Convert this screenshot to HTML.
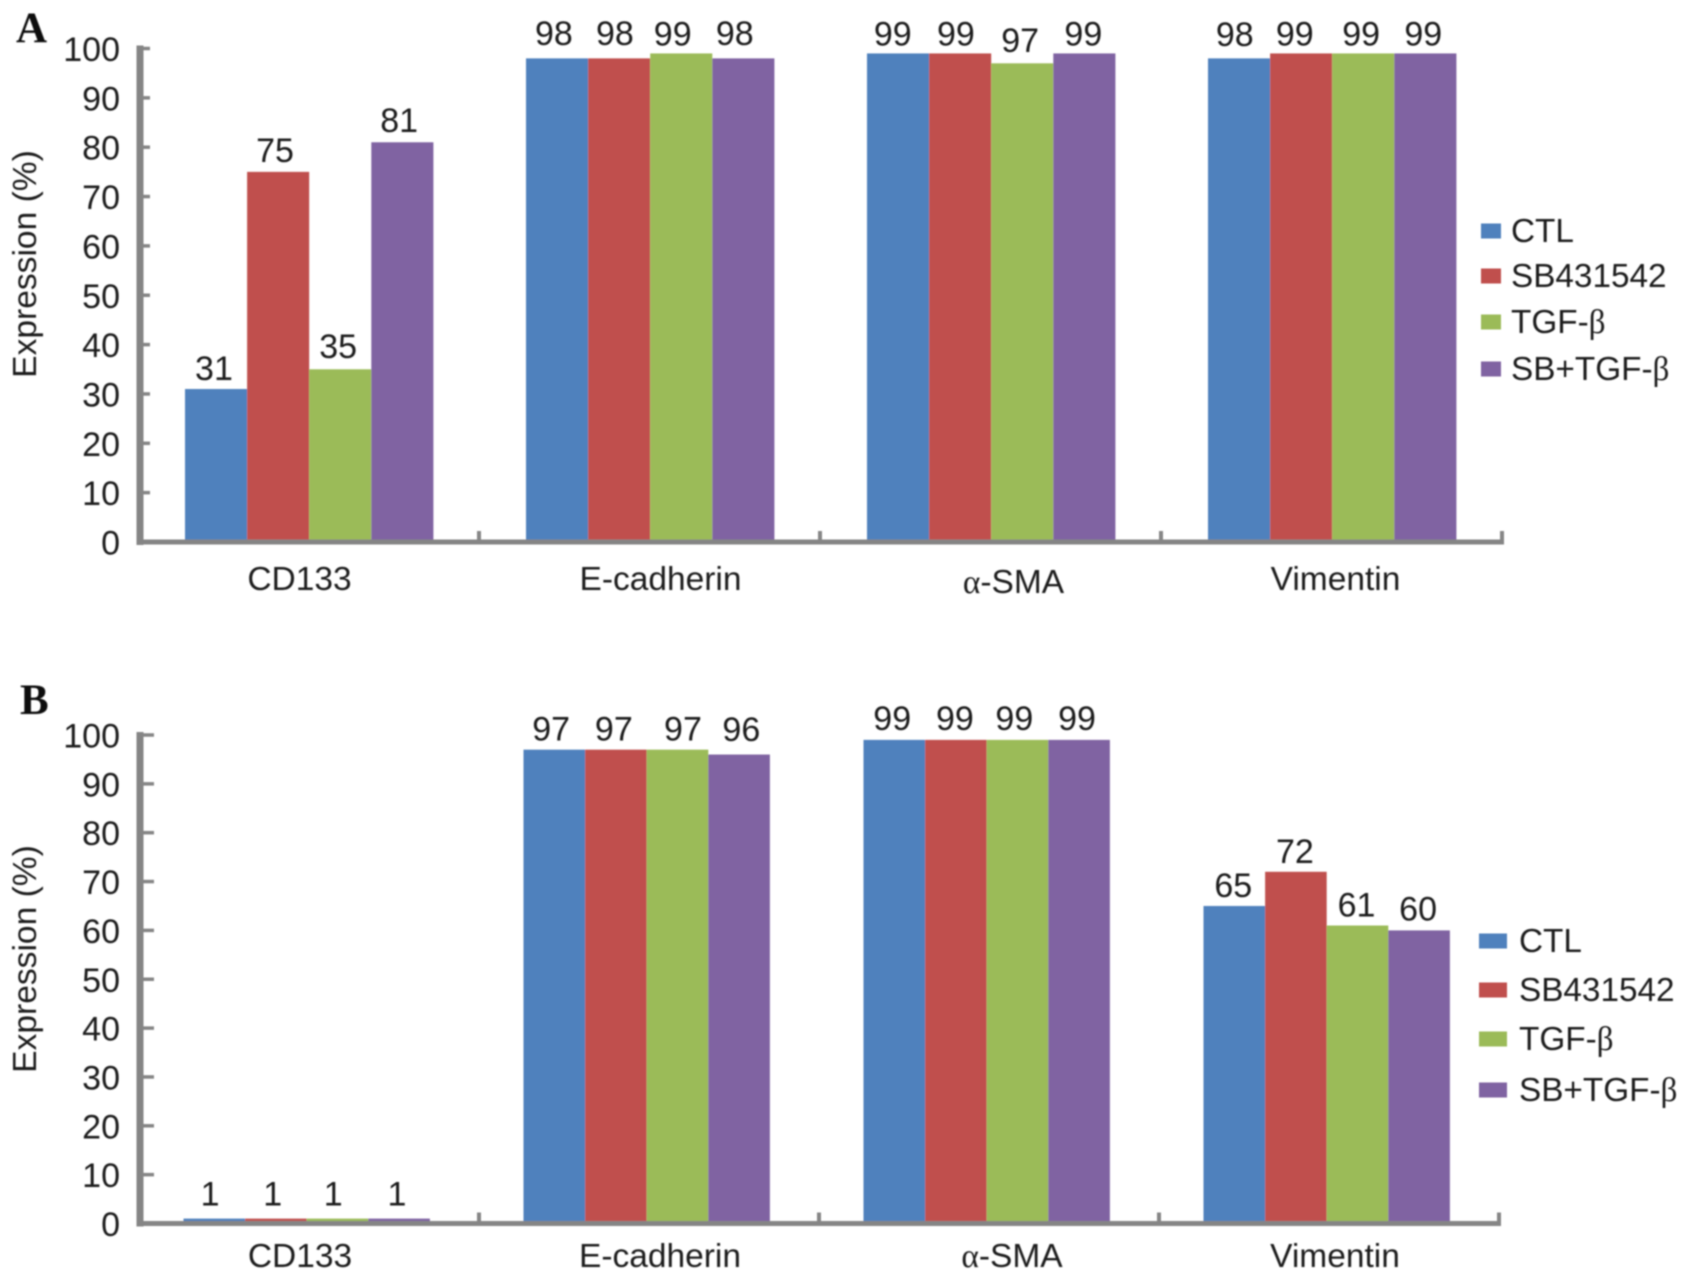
<!DOCTYPE html>
<html lang="en">
<head>
<meta charset="utf-8">
<title>Expression bar charts</title>
<style>
html,body{margin:0;padding:0;background:#fff;}
svg{display:block;}
text{font-family:"Liberation Sans",sans-serif;fill:#1f1f1f;}
.greek{font-family:"Liberation Serif",serif;}
.panel-letter{font-family:"Liberation Serif",serif;font-weight:bold;font-size:43px;fill:#111;}
</style>
</head>
<body>
<svg id="figure" width="1690" height="1279" viewBox="0 0 1690 1279" xmlns="http://www.w3.org/2000/svg">
  <defs>
    <filter id="soft" x="-5%" y="-5%" width="110%" height="110%"><feGaussianBlur stdDeviation="0.7"/></filter>
  </defs>
  <g id="root" filter="url(#soft)">
    <text class="panel-letter" x="16" y="42">A</text>
    <text class="panel-letter" x="20" y="714">B</text>
  </g>
</svg>
<script>
const categories = ['CD133', 'E-cadherin', 'α-SMA', 'Vimentin'];
const seriesNames = ['CTL', 'SB431542', 'TGF-β', 'SB+TGF-β'];
const seriesColors = ['#4F81BD', '#C0504D', '#9BBB59', '#8064A2'];
const yTickLabels = [0, 10, 20, 30, 40, 50, 60, 70, 80, 90, 100];

const panelACtl = [31, 98, 99, 98];
const panelASb = [75, 98, 99, 99];
const panelATgf = [35, 99, 97, 99];
const panelASbTgf = [81, 98, 99, 99];

const panelBCtl = [1, 97, 99, 65];
const panelBSb = [1, 97, 99, 72];
const panelBTgf = [1, 97, 99, 61];
const panelBSbTgf = [1, 96, 99, 60];

const SVG_NS = 'http://www.w3.org/2000/svg';
const root = document.getElementById('root');

function make(tag, attrs, parent) {
  const node = document.createElementNS(SVG_NS, tag);
  for (const key in attrs) node.setAttribute(key, attrs[key]);
  parent.appendChild(node);
  return node;
}

function fillText(node, str) {
  str.split(/([αβ])/).forEach(function (part) {
    if (!part) return;
    const span = make('tspan', {}, node);
    if (part === 'α' || part === 'β') span.setAttribute('class', 'greek');
    span.textContent = part;
  });
}

function drawPanel(cfg) {
  const group = make('g', {}, root);
  
  

  const yScale = function (v) { return cfg.y0 - (v / 100) * (cfg.y0 - cfg.y100); };
  const xBar = function (c, s) { return cfg.origin + c * cfg.step + cfg.pad + s * cfg.barW; };
  const axisColor = '#858585';

  // bars
  cfg.series.forEach(function (values, s) {
    values.forEach(function (v, c) {
      const x = xBar(c, s);
      const top = yScale(v);
      const bar = make('rect', { x: x, y: top, width: cfg.barW, height: cfg.y0 - top, fill: seriesColors[s] }, group);
      
      

      const lab = make('text', {
        x: x + cfg.barW / 2 - 1 + cfg.labelShiftX[c][s] * 1.078,
        y: top - 9 - cfg.labelLift[c][s] * 1.078,
        'text-anchor': 'middle',
        'font-size': 34
      }, group);
      
      
      lab.textContent = String(v);
    });
  });

  // y axis
  const yAxis = make('line', { x1: cfg.origin, x2: cfg.origin, y1: yScale(100) - 3, y2: cfg.y0 + 3, stroke: axisColor, 'stroke-width': 7 }, group);
  
  

  yTickLabels.forEach(function (t) {
    const y = yScale(t);
    const tick = make('line', { x1: cfg.origin, x2: cfg.origin + cfg.tickLen, y1: y, y2: y, stroke: axisColor, 'stroke-width': 3.5 }, group);
    
    

    const lab = make('text', { x: cfg.origin - 20, y: y + 12.5, 'text-anchor': 'end', 'font-size': 34 }, group);
    
    
    lab.textContent = String(t);
  });

  // x axis
  const xEnd = cfg.origin + categories.length * cfg.step + cfg.sepShift;
  const xAxis = make('line', { x1: cfg.origin - 3, x2: xEnd + 2, y1: cfg.y0, y2: cfg.y0, stroke: axisColor, 'stroke-width': 5 }, group);
  
  

  categories.forEach(function (name, c) {
    const sx = cfg.origin + (c + 1) * cfg.step + cfg.sepShift;
    const sep = make('line', { x1: sx, x2: sx, y1: cfg.y0 - 11, y2: cfg.y0, stroke: axisColor, 'stroke-width': 4 }, group);
    
    

    const lab = make('text', {
      x: cfg.origin + (c + 0.5) * cfg.step + cfg.catNudge[c],
      y: cfg.xLabelY + (name === 'α-SMA' ? cfg.greekDrop : 0),
      'text-anchor': 'middle',
      'font-size': 33.5
    }, group);
    
    
    fillText(lab, name);
  });

  // y title
  const title = make('text', {
    transform: 'translate(' + cfg.titleX + ',' + cfg.titleY + ') rotate(-90)',
    'text-anchor': 'middle',
    'font-size': 33.6
  }, group);
  
  
  title.textContent = 'Expression (%)';

  // legend
  seriesNames.forEach(function (name, s) {
    const entry = make('g', {}, group);
    
    

    const y = cfg.legendY[s];
    const swatch = make('rect', { x: cfg.swatchX, y: y - 7.5, width: cfg.swatchW, height: 15, fill: seriesColors[s] }, entry);
    
    

    const lab = make('text', { x: cfg.legendTextX, y: y + 11, 'font-size': 33.3 }, entry);
    
    
    fillText(lab, name);
  });
}

drawPanel({
  id: 'panel-a',
  series: [panelACtl, panelASb, panelATgf, panelASbTgf],
  y0: 542, y100: 48.5, origin: 140, step: 341, pad: 45, barW: 62.1, tickLen: 10,
  sepShift: -2, catNudge: [-11, 9, 21, 2],
  labelShiftX: [[-1, -2, -1, -2], [-2, -3, -7, -7], [-4, -3, -1, 0], [-3, -5, -1, -1]],
  labelLift: [[0, 1, 2, 1], [4, 4, -1, 4], [-1, -1, 2, -1], [3, -1, -1, -1]],
  xLabelY: 590, greekDrop: 3, titleX: 36, titleY: 264,
  legendY: [231, 276, 322, 369], swatchX: 1481, swatchW: 20, legendTextX: 1511
});

drawPanel({
  id: 'panel-b',
  series: [panelBCtl, panelBSb, panelBTgf, panelBSbTgf],
  y0: 1223.5, y100: 735, origin: 140, step: 340, pad: 43.5, barW: 61.6, tickLen: 14,
  sepShift: -1, catNudge: [-10, 10, 22, 5],
  labelShiftX: [[-3, -2, -3, -1], [-2, -1, 6, 3], [-1, 0, -2, -1], [0, 0, 0, 0]],
  labelLift: [[4, 4, 4, 4], [0, 0, 0, 4], [1, 1, 1, 1], [0, 0, 0, 1]],
  xLabelY: 1267, greekDrop: 0, titleX: 36, titleY: 959,
  legendY: [941, 990, 1039, 1090], swatchX: 1479, swatchW: 28, legendTextX: 1519
});
</script>
</body>
</html>
